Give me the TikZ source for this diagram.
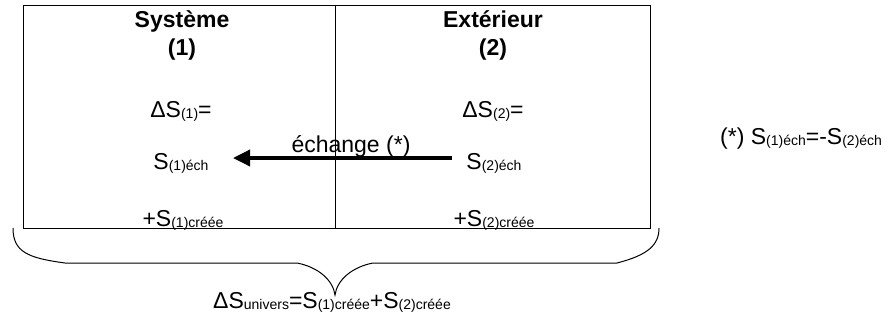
\documentclass[tikz,border=0pt]{standalone}
\usepackage{fontspec}
\setmainfont{Liberation Sans}
\usetikzlibrary{arrows.meta}
\newcommand{\sbs}[1]{\raisebox{-1.5pt}{\fontsize{14}{14}\selectfont #1}}
\begin{document}
\begin{tikzpicture}[x=1pt,y=-1pt,
  txt/.style={inner sep=0pt, anchor=base, font=\fontsize{23}{27}\selectfont},
  ttl/.style={inner sep=0pt, anchor=base, font=\fontsize{23}{27}\selectfont\bfseries},
  frame/.style={draw=black, line width=1pt},
  flow/.style={draw=black, line width=3.5pt, -{Triangle[length=17pt,width=16pt]}},
  brace/.style={draw=black, line width=1pt}]
\useasboundingbox (0,0) rectangle (890,322);
% frame
\coordinate (tl) at (23,5);
\coordinate (br) at (650,228);
\coordinate (dt) at (335.5,5);
\coordinate (db) at (335.5,228);
\draw[frame] (tl) rectangle (br);
\draw[frame] (dt) -- (db);
% titles
\node[ttl] (sys) at (182,27) {Système};
\node[ttl] (un) at (182,55) {(1)};
\node[ttl] (ext) at (493,27) {Extérieur};
\node[ttl] (deux) at (493,55) {(2)};
% contents
\node[txt] (ds1) at (181,117) {ΔS\sbs{(1)}=};
\node[txt] (ds2) at (493,117) {ΔS\sbs{(2)}=};
\node[txt] (s1e) at (181,169) {S\sbs{(1)éch}};
\node[txt] (s2e) at (494,169) {S\sbs{(2)éch}};
\node[txt] (c1) at (183,226) {+S\sbs{(1)créée}};
\node[txt] (c2) at (494,226) {+S\sbs{(2)créée}};
\node[txt] (ech) at (351,152) {échange (*)};
\node[txt, anchor=base west] (note) at (720,144) {(*) S\sbs{(1)éch}=-S\sbs{(2)éch}};
\node[txt] (univ) at (332,308) {ΔS\sbs{univers}=S\sbs{(1)créée}+S\sbs{(2)créée}};
% exchange arrow
\coordinate (aS) at (452,158);
\coordinate (aE) at (233,158);
\draw[flow] (aS) -- (aE);
% brace
\coordinate (bL) at (13,228);
\coordinate (bR) at (659,228);
\coordinate (bT) at (335,295);
\draw[brace] (bL) .. controls (13,252) and (28,258) .. (65,263) -- (297,263)
  .. controls (318,267) and (333,280) .. (bT)
  .. controls (337,280) and (352,267) .. (373,263) -- (617,263)
  .. controls (648,255) and (659,245) .. (bR);
\end{tikzpicture}
\end{document}
